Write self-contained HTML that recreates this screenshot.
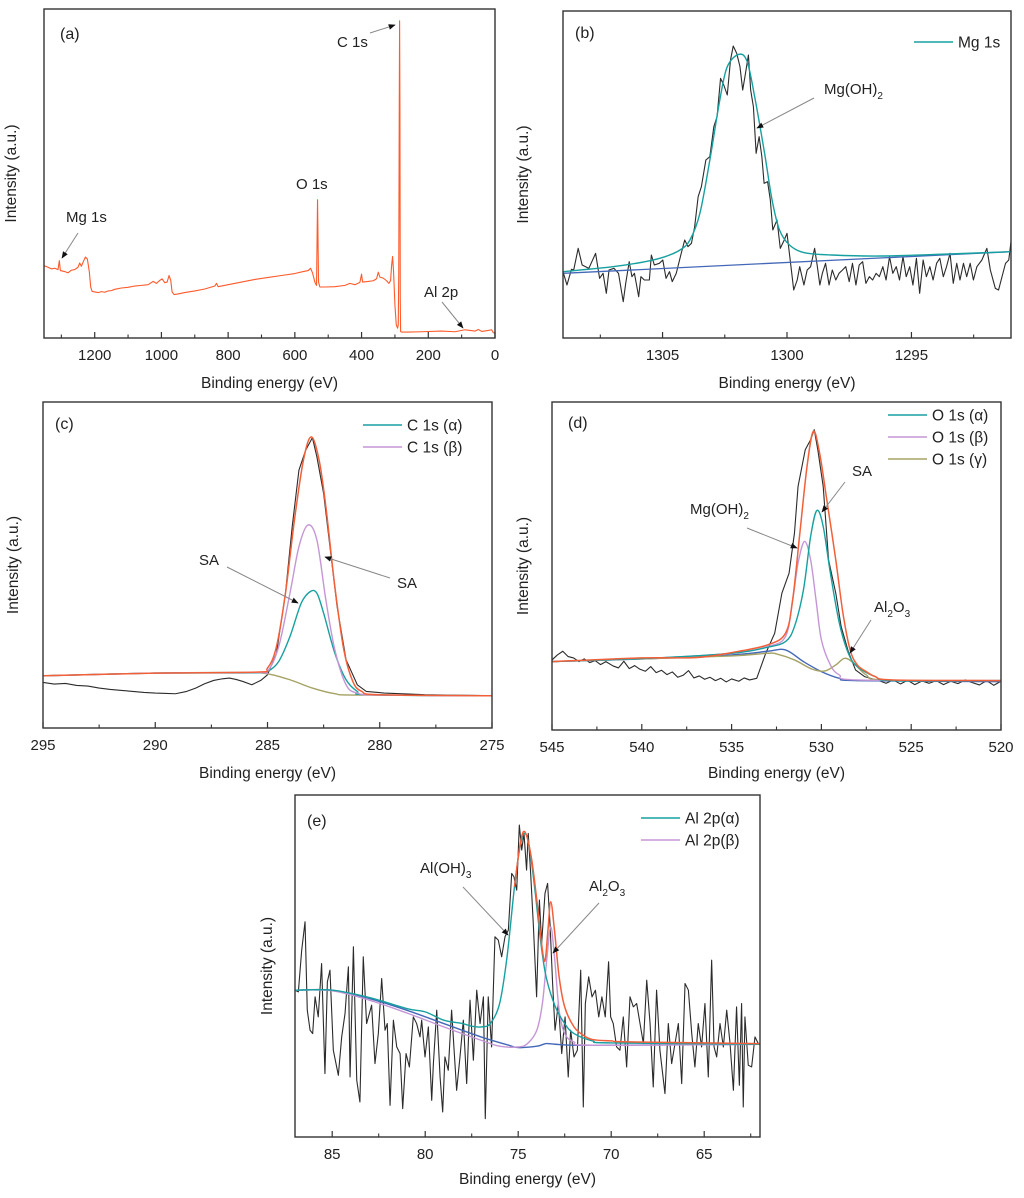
<!DOCTYPE html>
<html><head><meta charset="utf-8"><title>XPS spectra</title>
<style>
html,body{margin:0;padding:0;background:#fff;}
svg{display:block;font-family:"Liberation Sans",Arial,sans-serif;}
</style></head>
<body>
<svg id="fig" width="1024" height="1198" viewBox="0 0 1024 1198" xmlns="http://www.w3.org/2000/svg">
<defs>
<marker id="arr" viewBox="0 0 10 10" refX="9" refY="5" markerWidth="7" markerHeight="7" orient="auto-start-reverse"><path d="M0,1 L10,5 L0,9 z" fill="#111"/></marker>
</defs>
</svg>
<script>
// ---------------- DATA ----------------
// (a) survey spectrum: [binding energy eV, intensity a.u.]
const aSurvey = [[1352,22],[1340,21.5],[1330,21],[1320,21.2],[1310,20.8],[1306,23.5],[1303,20.5],[1290,20.2],[1280,19.8],[1270,20.6],[1260,20.8],[1250,21.5],[1245,22.8],[1240,21.8],[1235,23],[1228,24.6],[1222,24],[1216,20],[1212,15.5],[1208,14.2],[1200,14],[1190,13.8],[1180,14.1],[1170,13.9],[1160,14.3],[1150,14.4],[1140,14.8],[1120,15.2],[1100,15.4],[1080,15.8],[1060,16],[1040,16.2],[1025,17.2],[1015,16.6],[1005,17.5],[998,18],[990,16.8],[983,17],[977,19],[972,17.5],[968,14],[962,13.2],[950,13.4],[930,13.8],[900,14.3],[870,14.9],[840,15.8],[835,16.6],[830,15.6],[800,16.2],[760,17],[720,17.8],[680,18.4],[640,19],[600,19.6],[575,20.2],[560,20.5],[553,21.2],[547,19.8],[540,17],[535,16],[532,42],[529,17],[525,15.5],[510,15.5],[480,15.6],[450,16],[435,16.6],[420,16.2],[405,16.9],[400,19.4],[397,17],[380,17.2],[365,17.4],[355,18],[350,20],[345,18.5],[335,18.2],[325,17.4],[318,16.6],[313,17.5],[310,22],[307,24.8],[304,20],[300,10],[296,4],[292,3],[290,4],[288.5,20],[287,70],[286,96.4],[285,70],[284,12],[283,2],[281,1.8],[260,1.8],[220,1.9],[160,2.1],[120,1.9],[90,2.5],[60,2.1],[50,2.6],[40,2],[20,2.3],[10,2.5],[5,1.6],[0,1.5]];

// (b) Mg 1s
const bRaw = [[1309.00,19.9],[1308.84,15.9],[1308.66,20.6],[1308.57,20.4],[1308.39,26.9],[1308.23,21.9],[1307.96,20.9],[1307.69,25.4],[1307.53,17.9],[1307.39,19.4],[1307.26,13.4],[1307.15,20.4],[1306.95,20.9],[1306.77,19.4],[1306.58,10.9],[1306.48,16.4],[1306.34,22.9],[1306.23,18.4],[1306.13,19.4],[1305.96,12.4],[1305.87,18.4],[1305.73,17.4],[1305.53,17.4],[1305.45,24.9],[1305.33,21.9],[1305.13,22.4],[1304.99,23.4],[1304.86,17.9],[1304.72,19.9],[1304.61,16.9],[1304.45,19.4],[1304.25,25.4],[1304.11,29.4],[1303.98,27.4],[1303.84,28.4],[1303.71,33.4],[1303.57,42.4],[1303.44,45.4],[1303.26,53.4],[1303.10,54.4],[1302.94,63.4],[1302.81,66.4],[1302.67,77.9],[1302.54,75.9],[1302.40,72.9],[1302.27,83.4],[1302.16,87.6],[1302.02,85.4],[1301.89,81.4],[1301.78,74.4],[1301.69,78.4],[1301.55,84.9],[1301.46,74.4],[1301.35,69.4],[1301.24,55.4],[1301.12,60.4],[1301.01,54.4],[1300.92,46.4],[1300.78,46.9],[1300.67,41.4],[1300.57,32.4],[1300.40,35.4],[1300.27,26.9],[1300.11,29.4],[1300.00,31.4],[1299.84,21.4],[1299.73,14.4],[1299.59,17.4],[1299.49,21.4],[1299.32,15.9],[1299.19,20.4],[1299.05,21.4],[1298.89,26.9],[1298.78,21.4],[1298.68,15.9],[1298.58,19.4],[1298.45,22.4],[1298.31,15.9],[1298.18,20.4],[1298.04,17.4],[1297.91,19.4],[1297.77,20.4],[1297.64,21.4],[1297.50,16.9],[1297.37,22.4],[1297.23,15.9],[1297.10,21.9],[1296.96,22.9],[1296.83,16.4],[1296.69,18.4],[1296.56,17.4],[1296.42,19.4],[1296.29,18.4],[1296.15,21.4],[1296.02,17.4],[1295.88,24.4],[1295.75,19.4],[1295.61,21.4],[1295.48,17.4],[1295.34,24.4],[1295.21,18.4],[1295.07,21.4],[1294.94,15.9],[1294.80,23.9],[1294.67,13.4],[1294.53,23.4],[1294.40,18.4],[1294.26,21.4],[1294.13,17.4],[1293.99,22.4],[1293.86,23.9],[1293.72,18.4],[1293.59,21.4],[1293.45,25.4],[1293.32,16.4],[1293.18,22.4],[1293.05,17.4],[1292.91,22.4],[1292.78,18.4],[1292.64,22.4],[1292.51,17.4],[1292.37,21.4],[1292.17,23.4],[1291.97,26.9],[1291.83,20.4],[1291.63,14.9],[1291.50,14.4],[1291.36,18.4],[1291.22,22.4],[1291.09,23.4],[1290.96,31.4],[1290.86,28.4]];
const bFit = [[1309,19.9],[1307,21.4],[1305.7,22.9],[1304.9,24.4],[1304.3,26.4],[1303.9,29.4],[1303.5,37.4],[1303.1,53.4],[1302.7,71.4],[1302.4,81.4],[1301.93,85.1],[1301.6,82.9],[1301.3,72.4],[1300.9,55.4],[1300.6,41.4],[1300.3,32.4],[1299.9,27.9],[1299.3,25.6],[1298.2,24.9],[1296.2,24.6],[1293.5,25.2],[1291,25.9]];
const bBase = [[1309,19.4],[1291,25.9]];

// (c) C 1s
const cRaw = [[295,13.7],[294.5,13.2],[294,13.4],[293.5,12.8],[293,12.6],[292.5,12],[292,11.6],[291.5,11.3],[291,11],[290.5,10.7],[290,10.5],[289.5,10.4],[289.1,10.3],[288.6,11],[288.2,12],[287.8,13.3],[287.4,14.3],[287,14.8],[286.7,15],[286.4,14.6],[286.1,14],[285.7,13],[285.3,14.3],[285,16],[284.6,22.5],[284.2,40.5],[283.9,60.5],[283.6,77.5],[283.3,83.5],[283,87.3],[282.8,81.5],[282.5,70.5],[282.2,53.5],[281.9,36.5],[281.5,20.5],[281,13],[280.6,11],[279.8,10.5],[278,10],[276,9.8],[275,9.7]];
const cBg = [[295,15.7],[290,16.5],[286,16.7],[285,16.3],[284,14.5],[283,12],[282,10.3],[281,9.9],[275,9.7]];
const cAlpha = [[295,15.7],[290,16.5],[285.5,16.6],[285,17],[284.5,20],[284,27.5],[283.5,37.5],[283.1,41],[282.8,40.5],[282.5,34.5],[282,22.5],[281.5,14.5],[281,11],[280.5,10],[275,9.7]];
const cBeta = [[295,15.7],[290,16.5],[285.5,16.7],[285,17],[284.5,24.5],[284,40.5],[283.6,54.5],[283.2,61],[282.8,56.5],[282.4,38.5],[282,23.5],[281.5,13],[281,10.5],[280,9.9],[275,9.7]];
const cEnv = [[295,15.7],[290,16.5],[285.5,16.8],[285,18],[284.6,24.5],[284.2,40.5],[283.8,62.5],[283.4,80.5],[283.05,87.5],[282.7,80.5],[282.4,66.5],[282,42.5],[281.6,23.5],[281.2,14],[280.8,11],[280,10],[275,9.7]];

// (d) O 1s
const dRaw = [[545,21],[544.7,22.5],[544.4,23.6],[544.1,22],[543.8,21.6],[543.5,20.5],[543.2,21.3],[542.9,20.2],[542.6,20.8],[542.3,19.6],[542,20.5],[541.6,19.2],[541.3,18.6],[541,20.6],[540.7,18.4],[540.4,19.3],[540.1,18.2],[539.8,17.6],[539.5,19],[539.2,17.2],[538.9,17.9],[538.6,16.6],[538.3,17.4],[538,15.8],[537.7,16.4],[537.4,17.8],[537.1,15.6],[536.8,16.2],[536.5,15.2],[536.2,15.8],[535.9,14.8],[535.6,15.5],[535.3,14.4],[535,15.3],[534.6,14.6],[534.3,15.6],[534,15],[533.6,15.5],[533.1,23],[532.6,29],[532.2,41],[531.8,47],[531.5,59],[531.3,73],[530.9,84],[530.6,87],[530.4,90],[530.2,84],[529.9,73],[529.6,51],[529.2,41],[528.9,31],[528.5,23.5],[528.1,18],[527.6,16],[527.2,15.4],[526.8,14.8],[526.4,14],[526,15],[525.6,13.8],[525.2,14.9],[524.8,13.6],[524.4,14.7],[524,14],[523.6,14.8],[523.2,13.6],[522.8,14.6],[522.4,13.9],[522,15],[521.6,14.2],[521.2,13.5],[520.8,14.8],[520.4,13.4],[520,14.6]];
const dGamma = [[545,20.5],[540,21.3],[535,22.2],[533,23],[532.5,22.8],[531.5,21],[530.5,18.2],[529.8,17.7],[529.2,19.5],[528.7,21.5],[528.2,20],[527.5,16.5],[526.5,15],[520,14.8]];
const dBase = [[545,20.5],[540,21.3],[535,22.5],[533,23.6],[532,24],[531,20.5],[530,17.5],[529,15.5],[528,14.8],[520,14.5]];
const dAlpha = [[545,20.5],[540,21.4],[535,23],[533,24.8],[532,26.5],[531.5,31],[531,42],[530.6,58],[530.25,65.8],[529.9,61],[529.5,47],[529,32],[528.5,23],[528,19],[527,16],[526,14.8],[520,14.8]];
const dBeta = [[545,20.5],[540,21.4],[535,23],[533,25],[532,28],[531.6,39],[531.3,50],[530.94,56.5],[530.6,51],[530.3,39],[530,27],[529.5,19.5],[529,16.5],[528,15],[520,14.8]];
const dEnv = [[545,20.5],[540,21.6],[537,21.7],[535,23.2],[533,25.5],[532,29],[531.6,39],[531.2,59],[530.8,79],[530.45,89.5],[530.1,83],[529.7,69],[529.2,51],[528.8,35],[528.4,24],[528,19.5],[527.5,17.5],[527,16],[526,15],[520,14.8]];

// (e) Al 2p
const eRaw = [[87.00,44],[86.82,43.5],[86.64,56],[86.46,64.5],[86.34,38],[86.19,32],[86.05,31],[85.92,42],[85.75,36],[85.57,52],[85.39,19],[85.26,46.5],[85.12,50],[84.94,26],[84.67,18.5],[84.49,30],[84.31,37],[84.13,51],[84.04,18],[83.86,57],[83.68,17],[83.51,10.5],[83.33,54],[83.15,34],[82.88,39.5],[82.70,22],[82.52,31],[82.34,47.5],[82.16,32],[82.04,34],[81.89,9.5],[81.71,35],[81.53,27],[81.35,25],[81.21,8.5],[81.03,25],[80.85,21],[80.64,36],[80.46,34],[80.28,30],[80.19,35],[80.01,24],[79.83,33],[79.65,11],[79.56,22],[79.38,38],[79.20,18],[79.06,7.5],[78.94,24],[78.76,20],[78.58,38],[78.31,14],[78.13,24],[77.95,35],[77.77,16],[77.59,41],[77.41,23],[77.23,44],[77.05,34],[76.87,42],[76.77,5.5],[76.61,42],[76.43,27],[76.25,60],[76.07,59],[75.89,54],[75.71,60],[75.53,62],[75.35,79],[75.23,78],[75.08,74],[74.94,93.5],[74.81,86],[74.69,91],[74.55,80],[74.46,91],[74.33,79],[74.19,64],[74.01,42],[73.86,71],[73.74,58],[73.56,73],[73.42,76],[73.29,64],[73.15,46],[73.02,32],[72.84,40],[72.66,25],[72.48,36],[72.31,18],[72.18,32],[72.00,24],[71.82,26],[71.64,50],[71.50,9],[71.39,40],[71.21,48],[71.03,42],[70.85,44],[70.67,36],[70.50,42],[70.32,36],[70.14,52.5],[70.03,36],[69.89,34],[69.71,27],[69.53,26],[69.35,36],[69.17,21],[68.99,42],[68.81,39],[68.63,40],[68.45,34],[68.27,28],[68.09,47],[67.91,34],[67.74,15],[67.56,44],[67.38,26],[67.11,13],[66.93,34],[66.75,22],[66.57,28],[66.39,34],[66.21,16],[66.03,46],[65.85,44],[65.67,31],[65.50,21],[65.32,34],[65.14,27],[64.96,40],[64.78,18],[64.60,53],[64.47,27],[64.33,24],[64.15,34],[63.97,27],[63.79,38],[63.61,28],[63.43,14],[63.26,39],[63.11,15.5],[62.99,40],[62.90,9],[62.81,36],[62.63,21.5],[62.45,21],[62.27,30],[62.09,28]];
const eBase = [[87,44],[85,44],[83,41.5],[81,38],[79,34],[77,30],[75.5,27.5],[75,26.8],[74,27.2],[73.5,28],[73,27.8],[72,27.5],[70,27.5],[62,27.8]];
const eAlpha = [[87,44],[85,44],[83,41.8],[81,38.5],[80,37.5],[79,35],[78,34],[77.5,33.2],[77,33],[76.5,34],[76,40],[75.6,54],[75.2,75],[74.9,87],[74.65,91],[74.4,87],[74.1,74],[73.8,59],[73.5,48],[73,39],[72.5,34],[72,31],[71,28.8],[70,28.2],[62,27.8]];
const eBeta = [[87,44],[85,43.8],[83,41],[81,37.2],[79,33],[77,29],[76,27.2],[75,27],[74.5,28],[74,32],[73.7,40],[73.45,54],[73.25,63],[73.05,54],[72.8,38],[72.5,31],[72,28.5],[71,27.5],[62,27.8]];
const eEnv = [[75.2,75],[74.9,87.5],[74.65,91.5],[74.3,84],[74,71],[73.7,56],[73.55,53],[73.4,62],[73.25,70.5],[73.05,62],[72.8,48],[72.5,39],[72,33],[71.5,30.5],[71,29.2],[70,28.8],[69,28.5],[62,28]];

// tick labels
const aTicks = [1200,1000,800,600,400,200,0];
const aMinor = [1300,1100,900,700,500,300,100];
const bTicks = [1305,1300,1295];
const bMinor = [1307.5,1302.5,1297.5,1292.5];
const cTicks = [295,290,285,280,275];
const cMinor = [292.5,287.5,282.5,277.5];
const dTicks = [545,540,535,530,525,520];
const dMinor = [542.5,537.5,532.5,527.5,522.5];
const eTicks = [85,80,75,70,65];
const eMinor = [82.5,77.5,72.5,67.5,62.5];

// ---------------- DRAWING ----------------
const NS = "http://www.w3.org/2000/svg";
const svg = document.getElementById('fig');
function mk(tag, attrs, parent){
  const e = document.createElementNS(NS, tag);
  for (const k in attrs) e.setAttribute(k, attrs[k]);
  (parent||svg).appendChild(e);
  return e;
}
const COL = {raw:'#2b2b2b', orange:'#f2603a', teal:'#17a0a0', purple:'#c596d6', olive:'#a6a264', blue:'#4468b8', survey:'#ff5a2a'};

function makePanel(name, x0, y0, x1, y1, eL, eR, yTop, ticks, minor, titleY, ylabX){
  const g = mk('g', {});
  
  
  const sx = e => x0 + (eL - e) / (eL - eR) * (x1 - x0);
  const sy = v => y1 - v / yTop * (y1 - y0);
  const cid = 'clip-' + name;
  const cp = mk('clipPath', {id: cid}, g);
  mk('rect', {x:x0, y:y0, width:x1-x0, height:y1-y0}, cp);
  const plot = mk('g', {'clip-path': 'url(#' + cid + ')'}, g);
  
  
  const frame = mk('rect', {x:x0, y:y0, width:x1-x0, height:y1-y0, fill:'none', stroke:'#333', 'stroke-width':1.4}, g);
  
  
  ticks.forEach(t => {
    const tk = mk('line', {x1:sx(t), x2:sx(t), y1:y1, y2:y1-6, stroke:'#333', 'stroke-width':1.2}, g);
    
    
    const lb = mk('text', {x:sx(t), y:y1+22, 'text-anchor':'middle', 'font-size':15, fill:'#222'}, g);
    lb.textContent = String(t);
    
    
  });
  minor.forEach(t => {
    const tk = mk('line', {x1:sx(t), x2:sx(t), y1:y1, y2:y1-3.5, stroke:'#333', 'stroke-width':1.1}, g);
    
    
  });
  const xt = mk('text', {x:(x0+x1)/2, y:titleY, 'text-anchor':'middle', 'font-size':15.5, fill:'#222'}, g);
  xt.textContent = 'Binding energy (eV)';
  
  
  const yc = (y0+y1)/2;
  const yt = mk('text', {x:ylabX, y:yc, 'text-anchor':'middle', 'font-size':15.5, fill:'#222', transform:'rotate(-90 '+ylabX+' '+yc+')'}, g);
  yt.textContent = 'Intensity (a.u.)';
  
  
  return {g, plot, sx, sy};
}

function poly(P, data, color, name, w){
  const pts = data.map(d => P.sx(d[0]).toFixed(2) + ',' + P.sy(d[1]).toFixed(2)).join(' ');
  const pl = mk('polyline', {points:pts, fill:'none', stroke:color, 'stroke-width':w||1.1, 'stroke-linejoin':'round'}, P.plot);
  
  
  return pl;
}
function smooth(P, data, color, name, w){
  const p = data.map(d => [P.sx(d[0]), P.sy(d[1])]);
  let d = 'M' + p[0][0].toFixed(2) + ',' + p[0][1].toFixed(2);
  for (let i = 0; i < p.length - 1; i++){
    const a = p[Math.max(0,i-1)], b = p[i], c = p[i+1], e = p[Math.min(p.length-1,i+2)];
    const c1 = [b[0] + (c[0]-a[0])/6, b[1] + (c[1]-a[1])/6];
    const c2 = [c[0] - (e[0]-b[0])/6, c[1] - (e[1]-b[1])/6];
    d += ' C' + c1[0].toFixed(2)+','+c1[1].toFixed(2)+' '+c2[0].toFixed(2)+','+c2[1].toFixed(2)+' '+c[0].toFixed(2)+','+c[1].toFixed(2);
  }
  const pa = mk('path', {d:d, fill:'none', stroke:color, 'stroke-width':w||1.3}, P.plot);
  
  
  return pa;
}
function label(P, x, y, txt, name, size, anchor){
  const t = mk('text', {x:x, y:y, 'font-size':size||15, fill:'#222', 'text-anchor':anchor||'start'}, P.g);
  t.textContent = txt;
  
  
  return t;
}
function chemLabel(P, x, y, parts, name){
  // parts: array of [text, isSub]
  const t = mk('text', {x:x, y:y, 'font-size':15, fill:'#222'}, P.g);
  
  
  let sub = false;
  parts.forEach(p => {
    const s = mk('tspan', {}, t);
    if (p[1] && !sub){ s.setAttribute('dy', 5); s.setAttribute('font-size', 10); sub = true; }
    else if (!p[1] && sub){ s.setAttribute('dy', -5); sub = false; }
    else if (p[1]) s.setAttribute('font-size', 10);
    s.textContent = p[0];
  });
  return t;
}
function arrow(P, x1, y1, x2, y2, name){
  const l = mk('line', {x1:x1, y1:y1, x2:x2, y2:y2, stroke:'#888', 'stroke-width':1, 'marker-end':'url(#arr)'}, P.g);
  
  
}
function legend(P, x, y, items){
  items.forEach((it, i) => {
    const ln = mk('line', {x1:x, x2:x+39, y1:y+i*22, y2:y+i*22, stroke:it[1], 'stroke-width':1.5}, P.g);
    
    
    const t = mk('text', {x:x+44, y:y+i*22+5.5, 'font-size':15.5, fill:'#222'}, P.g);
    t.textContent = it[0];
    
    
  });
}

// Panel (a)
const A = makePanel('panel-a-survey', 44, 9, 495, 338, 1352, 0, 100, aTicks, aMinor, 388, 16);
poly(A, aSurvey, COL.survey, 'survey-spectrum', 1.1);
label(A, 60, 39, '(a)', 'panel-label-a', 16);
label(A, 337, 47, 'C 1s', 'c1s-annotation');
arrow(A, 370, 33, 395, 25, 'c1s-arrow');
label(A, 296, 189, 'O 1s', 'o1s-annotation');
label(A, 66, 222, 'Mg 1s', 'mg1s-annotation');
arrow(A, 78, 233, 62, 258, 'mg1s-arrow');
label(A, 424, 297, 'Al 2p', 'al2p-annotation');
arrow(A, 442, 302, 463, 328, 'al2p-arrow');

// Panel (b)
const B = makePanel('panel-b-mg1s', 563, 11, 1011, 338, 1309, 1291, 98.1, bTicks, bMinor, 388, 528);
poly(B, bRaw, COL.raw, 'mg1s-raw-spectrum', 1.1);
poly(B, bBase, COL.blue, 'mg1s-background', 1.3);
smooth(B, bFit, COL.teal, 'mg1s-fit-peak', 1.4);
label(B, 575, 38, '(b)', 'panel-label-b', 16);
legend(B, 914, 42, [['Mg 1s', COL.teal]]);
chemLabel(B, 824, 94, [['Mg(OH)',0],['2',1]], 'mgoh2-annotation');
arrow(B, 814, 98, 757, 128, 'mgoh2-arrow');

// Panel (c)
const C = makePanel('panel-c-c1s', 43, 402, 492, 728, 295, 275, 98, cTicks, cMinor, 778, 18);
poly(C, cRaw, COL.raw, 'c1s-raw-spectrum', 1.1);
smooth(C, cBg, COL.olive, 'c1s-background', 1.4);
smooth(C, cAlpha, COL.teal, 'c1s-alpha-peak', 1.4);
smooth(C, cBeta, COL.purple, 'c1s-beta-peak', 1.4);
smooth(C, cEnv, COL.orange, 'c1s-envelope', 1.5);
label(C, 55, 429, '(c)', 'panel-label-c', 16);
legend(C, 363, 425, [['C 1s (\u03b1)', COL.teal], ['C 1s (\u03b2)', COL.purple]]);
label(C, 199, 565, 'SA', 'sa-annotation-1');
arrow(C, 227, 567, 298, 603, 'sa-arrow-1');
label(C, 397, 588, 'SA', 'sa-annotation-2');
arrow(C, 390, 578, 325, 557, 'sa-arrow-2');

// Panel (d)
const D = makePanel('panel-d-o1s', 552, 402, 1001, 730, 545, 520, 98.3, dTicks, dMinor, 778, 528);
poly(D, dRaw, COL.raw, 'o1s-raw-spectrum', 1.1);
smooth(D, dBase, COL.blue, 'o1s-background', 1.4);
smooth(D, dGamma, COL.olive, 'o1s-gamma-peak', 1.4);
smooth(D, dBeta, COL.purple, 'o1s-beta-peak', 1.4);
smooth(D, dAlpha, COL.teal, 'o1s-alpha-peak', 1.4);
smooth(D, dEnv, COL.orange, 'o1s-envelope', 1.5);
label(D, 568, 428, '(d)', 'panel-label-d', 16);
legend(D, 888, 415, [['O 1s (\u03b1)', COL.teal], ['O 1s (\u03b2)', COL.purple], ['O 1s (\u03b3)', COL.olive]]);
chemLabel(D, 690, 514, [['Mg(OH)',0],['2',1]], 'o1s-mgoh2-annotation');
arrow(D, 747, 528, 797, 548, 'o1s-mgoh2-arrow');
label(D, 852, 476, 'SA', 'o1s-sa-annotation');
arrow(D, 845, 482, 822, 512, 'o1s-sa-arrow');
chemLabel(D, 874, 612, [['Al',0],['2',1],['O',0],['3',1]], 'o1s-al2o3-annotation');
arrow(D, 871, 620, 850, 653, 'o1s-al2o3-arrow');

// Panel (e)
const E = makePanel('panel-e-al2p', 295, 795, 760, 1137, 87, 62, 102.5, eTicks, eMinor, 1184, 272);
poly(E, eRaw, COL.raw, 'al2p-raw-spectrum', 1.1);
smooth(E, eBase, COL.blue, 'al2p-background', 1.4);
smooth(E, eBeta, COL.purple, 'al2p-beta-peak', 1.4);
smooth(E, eAlpha, COL.teal, 'al2p-alpha-peak', 1.4);
smooth(E, eEnv, COL.orange, 'al2p-envelope', 1.5);
label(E, 307, 826, '(e)', 'panel-label-e', 16);
legend(E, 641, 818, [['Al 2p(\u03b1)', COL.teal], ['Al 2p(\u03b2)', COL.purple]]);
chemLabel(E, 420, 873, [['Al(OH)',0],['3',1]], 'aloh3-annotation');
arrow(E, 463, 887, 508, 935, 'aloh3-arrow');
chemLabel(E, 589, 891, [['Al',0],['2',1],['O',0],['3',1]], 'al2o3-annotation');
arrow(E, 599, 903, 553, 953, 'al2o3-arrow');
</script>
</body></html>
